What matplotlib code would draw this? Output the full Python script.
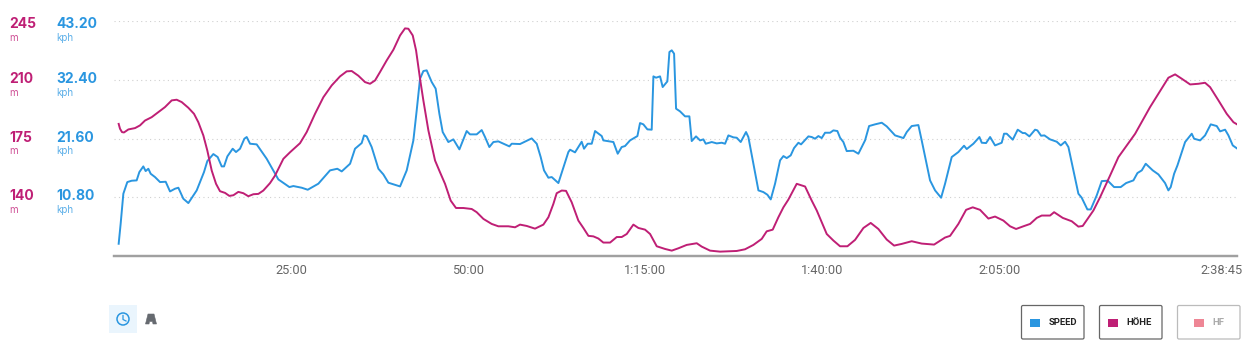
import matplotlib
matplotlib.use("Agg")
import matplotlib.pyplot as plt
from matplotlib.patches import Rectangle, FancyBboxPatch, Circle, Polygon
from matplotlib.transforms import ScaledTranslation

# time in minutes, altitude in m, speed in kph
hoehe_t = [0.66, 0.85, 1.13, 1.41, 2.03, 2.97, 3.67, 4.38, 5.32, 6.26, 7.20, 8.15, 8.85, 9.56, 10.50, 11.30, 11.91, 12.62, 13.18, 13.80, 14.41, 14.97, 15.68, 16.29, 16.86, 17.56, 18.27, 18.97, 19.68, 20.39, 21.09, 22.03, 22.74, 23.92, 24.86, 26.27, 27.21, 28.39, 29.57, 30.74, 31.92, 32.86, 33.57, 34.51, 35.45, 36.16, 36.87, 37.57, 38.51, 39.46, 40.40, 41.10, 41.57, 42.19, 42.66, 42.99,
           43.22, 43.69, 44.40, 45.34, 46.04, 46.75, 47.55, 48.30, 49.34, 50.52, 51.22, 52.17, 53.34, 54.28, 55.70, 56.64, 57.34, 58.29, 59.46, 60.64, 61.35, 62.05, 62.52, 63.23, 63.84, 64.64, 65.58, 66.29, 67.00, 67.70, 68.41, 69.11, 70.06, 71.00, 71.70, 72.41, 73.35, 74.06, 75.00, 75.71, 76.65, 77.82, 78.77, 79.71, 80.88, 82.30, 83.00, 84.18, 85.59, 87.95, 89.12, 90.30, 91.48, 92.18, 93.03, 93.83, 94.54, 95.24, 96.42, 97.60, 98.54, 99.25, 100.66, 101.60, 102.54,
           103.58, 104.66, 105.84, 106.87, 107.95, 109.13, 110.17, 111.25, 112.66, 114.07, 115.82, 117.37, 118.08, 119.25, 120.34, 121.28, 122.31, 123.49, 124.43, 125.61, 126.55, 127.40, 128.43, 129.38, 130.32, 131.02, 132.20, 132.77, 133.99, 135.26, 136.20, 136.81, 138.32, 139.26, 140.67, 141.85, 143.03, 144.21, 146.32, 148.91, 149.86, 150.80, 151.98, 153.15, 154.09, 154.80, 155.98, 157.15, 158.10, 158.66]
hoehe = [183.7, 180.8, 178.8, 178.6, 180.4, 181.2, 182.8, 185.7, 187.7, 190.7, 193.7, 197.7, 198.1, 196.7, 193.3, 189.7, 184.7, 176.8, 167.8, 155.9, 148.0, 143.6, 142.6, 140.8, 141.2, 143.2, 142.4, 140.6, 141.8, 142.0, 144.0, 148.4, 152.9, 162.9, 166.8, 172.2, 178.8, 189.7, 199.6, 206.6, 212.0, 215.0, 215.2, 212.4, 208.6, 207.6, 209.6, 214.6, 221.5, 227.9, 236.4, 240.6, 240.4, 236.4, 227.5, 217.5,
         210.6, 197.7, 179.8, 161.9, 154.9, 148.0, 138.0, 133.6, 133.6, 133.0, 131.1, 127.1, 124.1, 122.7, 122.7, 122.1, 123.7, 122.9, 121.3, 123.7, 128.1, 136.0, 142.4, 144.0, 143.8, 137.0, 126.1, 121.7, 117.0, 116.7, 115.4, 113.0, 113.0, 116.3, 116.3, 118.1, 123.7, 121.7, 120.7, 118.1, 110.8, 109.2, 108.2, 109.6, 111.6, 112.6, 110.6, 108.2, 107.6, 108.0, 109.0, 111.6, 115.2, 119.7, 120.7, 128.1, 134.0, 138.6, 148.0, 146.4, 138.0, 132.1, 118.1, 114.2, 110.8,
         110.8, 114.6, 121.7, 124.7, 121.1, 114.8, 111.2, 112.2, 113.8, 112.4, 111.8, 116.0, 117.0, 124.1, 132.5, 134.0, 132.5, 127.3, 128.5, 126.1, 122.7, 121.1, 122.7, 124.1, 127.7, 129.1, 129.1, 131.1, 127.7, 125.7, 122.5, 122.9, 132.1, 140.0, 152.9, 163.9, 170.8, 177.8, 193.7, 211.2, 213.2, 210.6, 207.2, 207.6, 208.2, 205.6, 197.7, 189.7, 184.7, 183.3]

speed_t = [0.66, 0.94, 1.32, 1.88, 2.50, 3.20, 3.58, 4.14, 4.47, 4.85, 5.18, 5.79, 6.50, 7.30, 7.91, 8.62, 9.09, 9.79, 10.50, 11.68, 12.71, 13.18, 14.03, 14.64, 15.21, 15.54, 16.01, 16.76, 17.23, 17.80, 18.41, 18.74, 19.21, 20.15, 21.56, 23.21, 24.77, 25.33, 26.51, 27.36, 28.86, 30.51, 31.54, 32.16, 33.34, 34.04, 34.98, 35.31, 35.69, 36.39, 37.34, 38.04, 38.75, 40.40, 41.34, 42.28, 42.75,
           43.22, 43.69, 44.16, 44.87, 45.43, 45.95, 46.42, 47.22, 47.93, 48.78, 49.81, 50.28, 51.22, 51.93, 52.40, 53.01, 53.58, 54.28, 55.84, 56.17, 57.34, 58.99, 59.70, 60.26, 60.73, 61.35, 61.82, 62.76, 64.17, 64.41, 65.11, 66.05, 66.38, 66.90, 67.47, 67.94, 68.88, 69.11, 70.53, 71.14, 71.70, 72.17, 72.88, 73.92, 74.29, 74.76, 75.33, 75.94, 76.18, 76.55, 77.12, 77.49, 78.15, 78.44, 78.77, 79.10, 79.38, 79.94, 80.65, 81.26, 81.59, 82.20, 82.77, 83.24, 83.57, 84.42, 85.12, 85.83, 86.30, 86.77, 87.48, 87.95, 88.51, 89.26, 89.59, 91.01, 91.71, 92.28, 92.75, 93.36, 94.07, 94.54, 95.01, 95.57, 96.04, 96.66, 97.03, 98.07, 98.54, 99.01, 99.48, 99.95, 100.42, 101.13, 101.60, 102.16, 102.54,
           103.01, 103.48, 104.42, 105.13, 106.07, 106.64, 107.48, 108.43, 109.13, 110.31, 111.49, 111.96, 112.66, 113.60, 114.07, 115.25, 115.96, 116.81, 117.37, 118.31, 119.25, 120.05, 120.43, 121.37, 122.22, 122.55, 123.16, 123.73, 124.43, 125.37, 125.70, 126.08, 126.93, 127.63, 128.34, 128.67, 129.28, 130.08, 130.41, 130.93, 131.40, 132.20, 133.14, 133.71, 134.32, 134.79, 135.50, 136.20, 136.67, 137.47, 137.94, 138.79, 139.50, 140.35, 141.24, 142.18, 142.94, 143.97, 144.54, 145.15, 145.71, 146.70, 147.50, 148.44, 148.91, 149.24, 149.72, 150.19, 151.27, 152.21, 152.54, 153.39, 154.09, 154.89, 155.74, 156.21, 156.92, 157.39, 158.00, 158.66]
speed = [2.25, 5.93, 11.45, 13.59, 13.84, 13.90, 15.43, 16.47, 15.61, 16.04, 15.12, 14.51, 13.59, 13.65, 11.87, 12.37, 12.55, 10.53, 9.73, 12.06, 15.43, 17.45, 18.74, 18.19, 16.47, 16.47, 18.31, 19.72, 19.11, 19.72, 21.56, 21.87, 20.64, 20.52, 17.88, 14.08, 12.67, 12.86, 12.55, 12.18, 13.29, 15.74, 16.04, 15.55, 16.96, 19.72, 20.76, 22.17, 21.99, 20.03, 16.04, 15.00, 13.47, 12.79, 15.74, 21.25, 26.77,
         32.59, 34.00, 34.13, 31.98, 30.76, 26.16, 22.79, 20.95, 21.44, 19.60, 22.97, 22.36, 22.36, 23.15, 21.87, 20.03, 20.95, 21.07, 20.15, 20.64, 20.58, 21.62, 20.64, 18.19, 15.74, 14.39, 14.51, 13.41, 19.11, 19.54, 19.05, 21.01, 19.72, 20.64, 20.64, 22.97, 22.05, 21.25, 20.95, 18.80, 20.03, 20.21, 21.25, 22.05, 24.44, 24.20, 23.28, 23.22, 33.02, 32.78, 33.02, 31.06, 32.10, 37.50, 37.81, 37.19, 27.08, 26.59, 25.67, 25.67, 21.13, 21.99, 21.25, 21.44, 20.64, 20.95, 20.70, 20.82, 20.64, 22.17, 21.81, 21.74, 20.95, 22.79, 21.87, 12.06, 11.75, 11.26, 10.40, 13.29, 17.58, 18.37, 18.00, 18.50, 19.84, 20.82, 20.52, 21.99, 21.87, 21.56, 22.05, 21.68, 22.66, 22.66, 23.09, 22.97, 21.74,
         20.95, 19.29, 19.35, 18.80, 21.25, 23.89, 24.20, 24.50, 23.83, 22.17, 21.68, 22.79, 23.89, 24.07, 21.25, 13.90, 12.06, 10.71, 13.29, 18.19, 19.11, 20.27, 19.66, 20.64, 21.87, 20.82, 20.76, 21.87, 20.33, 20.82, 22.48, 22.48, 21.38, 23.22, 22.60, 22.60, 21.99, 23.22, 23.09, 22.11, 22.17, 21.44, 21.01, 20.33, 21.01, 20.03, 15.74, 11.45, 10.71, 8.56, 8.56, 11.14, 13.77, 13.84, 12.67, 12.67, 13.41, 13.90, 15.25, 15.74, 16.96, 15.74, 15.00, 13.41, 12.06, 12.67, 15.12, 16.66, 20.95, 22.48, 21.56, 21.25, 22.17, 24.20, 23.89, 22.91, 23.22, 22.17, 20.33, 19.72]

hoehe_ticks = [245, 210, 175, 140]
speed_ticks = [43.20, 32.40, 21.60, 10.80]
x_ticks = [25, 50, 75, 100, 125, 158.75]
x_labels = ["25:00", "50:00", "1:15:00", "1:40:00", "2:05:00", "2:38:45"]
legend_names = ["SPEED", "HÖHE", "HF"]

BLUE = "#2a96e0"
PINK = "#bf1f75"
W, H = 1257, 356

fig = plt.figure(figsize=(W / 100, H / 100), dpi=100)
ax = fig.add_axes([114 / W, 1 - 256 / H, 1123 / W, 235 / H])
ax2 = ax.twinx()

ax.plot(speed_t, speed, color=BLUE, lw=1.4, solid_joinstyle="round")
ax2.plot(hoehe_t, hoehe, color=PINK, lw=1.4, solid_joinstyle="round")

ax.set_xlim(0, 158.6)
ax.set_ylim(0, 43.2)
ax2.set_ylim(105, 245)
ax.set_yticks(speed_ticks)
ax.set_yticklabels([])
ax2.set_yticks([])
ax.tick_params(axis="y", length=0)
ax.yaxis.grid(True, color="#d0d0d0", lw=0.8, ls=(0, (1, 3)))
ax.set_axisbelow(True)

for a in (ax, ax2):
    for s in ("top", "left", "right"):
        a.spines[s].set_visible(False)
    a.spines["bottom"].set_color("#a0a0a0")
    a.spines["bottom"].set_linewidth(1.6)
    a.patch.set_visible(False)

ax.set_xticks(x_ticks[:-1] + [158.6])
ax.set_xticklabels(x_labels, fontsize=9.2, color="#666666", family="Roboto")
ax.tick_params(axis="x", length=0, pad=6)
last = ax.get_xticklabels()[-1]
last.set_ha("right")
last.set_transform(last.get_transform() + ScaledTranslation(6 / 100, 0, fig.dpi_scale_trans))

# axis labels stacked as value + unit, pixel nudges because top one sits lower
nudge = [-2.6, 1, 1, 1.7]
for i in range(4):
    y = ax.transData.transform((0, speed_ticks[i]))[1] / H + nudge[i] / H
    fig.text(9 / W, y, str(hoehe_ticks[i]), color=PINK, fontsize=10, fontweight="bold",
             family="Inter", va="center", ha="left")
    fig.text(9 / W, y - 14 / H, "m", color="#cf4f95", fontsize=7, family="Inter", va="center")
    fig.text(56 / W, y, "%.2f" % speed_ticks[i], color=BLUE, fontsize=10, fontweight="bold",
             family="Inter", va="center", ha="left")
    fig.text(56 / W, y - 14 / H, "kph", color="#5aaee8", fontsize=7, family="Inter", va="center")

# buttons below the chart, in pixel coords
ui = fig.add_axes([0, 0, 1, 1])
ui.set_xlim(0, W)
ui.set_ylim(H, 0)
ui.axis("off")
ui.patch.set_visible(False)

box_x = [1021.5, 1099.5, 1177.5]
swatch_x = [1030, 1108, 1194]
text_x = [1049, 1126, 1212]
swatch_c = [BLUE, PINK, "#ee8695"]
edge_c = ["#666666", "#666666", "#bbbbbb"]
text_c = ["#222222", "#222222", "#aaaaaa"]
for i in range(3):
    ui.add_patch(FancyBboxPatch((box_x[i], 305.5), 62.5, 33.5, boxstyle="round,pad=0,rounding_size=1.5",
                                fc="white", ec=edge_c[i], lw=0.9))
    ui.add_patch(Rectangle((swatch_x[i], 319), 10, 8, fc=swatch_c[i], ec="none"))
    ui.text(text_x[i], 322.5, legend_names[i], color=text_c[i], fontsize=6.8, fontweight="bold",
            family="Roboto", va="center", ha="left")

# clock toggle
ui.add_patch(Rectangle((109, 305), 28, 28, fc="#eaf5fd", ec="none"))
ui.add_patch(Circle((123, 319), 6, fc="none", ec=BLUE, lw=1.1))
ui.plot([123, 123, 126], [315.5, 319.5, 321], color=BLUE, lw=0.9)
# road icon
ui.add_patch(Polygon([(145.5, 324), (148, 314), (154, 314), (156.5, 324), (153, 324), (152.5, 321.5), (149.5, 321.5), (149, 324)],
                     fc="#666a70", ec="#666a70", lw=0.4))

fig.savefig("out.png", dpi=100)
